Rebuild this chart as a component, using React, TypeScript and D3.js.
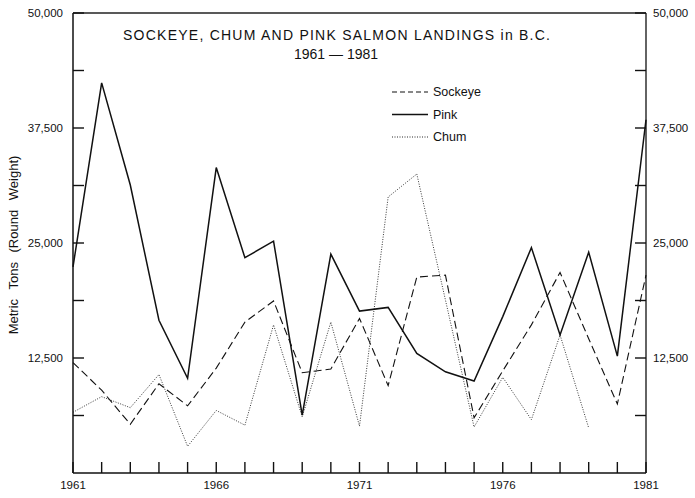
import React from "react";
import * as d3 from "d3";

const years = d3.range(1961, 1982);
// Values in metric tons (round weight)
const sockeye = [12000, 9000, 5300, 9700, 7300, 11400, 16400, 18700, 10900, 11300, 16800, 9500, 21300, 21500, 6000, 11100, 16100, 21800, 14600, 7500, 21500];
const pink = [22400, 42400, 31300, 16600, 10300, 33200, 23400, 25200, 6300, 23800, 17600, 18000, 13000, 11000, 10000, 17000, 24500, 15000, 24000, 12700, 38400];
const chum: (number | null)[] = [6600, 8300, 7100, 10700, 2900, 6800, 5200, 16100, 6100, 16400, 5100, 30000, 32500, 18800, 5000, 10400, 5800, 15000, 4900, null, null];

const yTickLabels = [12500, 25000, 37500, 50000];
const yMinorTicks = [6250, 12500, 18750, 25000, 31250, 37500, 43750, 50000];
const xTickLabels = [1961, 1966, 1971, 1976, 1981];

const legendItems = [
  { name: "Sockeye", dash: "5,3", width: 1.1 },
  { name: "Pink", dash: "none", width: 1.5 },
  { name: "Chum", dash: "1,1.5", width: 0.9 },
];

export default function App() {
  const W = 695, H = 498;
  const left = 73, right = 646, top = 13, bottom = 473;
  const x = d3.scaleLinear().domain([1961, 1981]).range([left, right]);
  const y = d3.scaleLinear().domain([0, 50000]).range([bottom, top]);

  const line = d3
    .line<number | null>()
    .defined((d) => d !== null)
    .x((_, i) => x(years[i]))
    .y((d) => y(d as number));

  const font = "'Liberation Sans', Arial, Helvetica, sans-serif";

  return (
    <svg width={W} height={H} viewBox={`0 0 ${W} ${H}`} style={{ position: "absolute", left: 0, top: 0, background: "#fff" }}>
      <rect x={0} y={0} width={W} height={H} fill="#fff" />
      {/* frame */}
      <line x1={left} x2={right} y1={top} y2={top} stroke="#222" strokeWidth={1.3} />
      <line x1={left} x2={right} y1={bottom} y2={bottom} stroke="#111" strokeWidth={1.5} />
      <line x1={left} x2={left} y1={top} y2={bottom} stroke="#111" strokeWidth={1.5} />
      <line x1={right} x2={right} y1={top} y2={bottom} stroke="#222" strokeWidth={1.4} />

      {/* y ticks */}
      {yMinorTicks.map((v) => (
        <g key={"yt" + v}>
          <line x1={left} x2={left + 11} y1={y(v)} y2={y(v)} stroke="#111" strokeWidth={1.4} />
          <line x1={right} x2={right - 11} y1={y(v)} y2={y(v)} stroke="#111" strokeWidth={1.4} />
        </g>
      ))}
      {yTickLabels.map((v) => (
        <g key={"yl" + v} fontFamily={font} fontSize={11.5} fill="#111">
          <text x={63} y={y(v)} dy="0.35em" textAnchor="end">{d3.format(",")(v)}</text>
          <text x={653} y={y(v)} dy="0.35em" textAnchor="start">{d3.format(",")(v)}</text>
        </g>
      ))}

      {/* x ticks */}
      {years.map((yr) => (
        <line key={"xt" + yr} x1={x(yr)} x2={x(yr)} y1={bottom} y2={bottom - 11} stroke="#111" strokeWidth={1.4} />
      ))}
      {xTickLabels.map((yr) => (
        <text key={"xl" + yr} x={x(yr)} y={489} textAnchor="middle" fontFamily={font} fontSize={11.5} fill="#111">{yr}</text>
      ))}

      {/* axis title */}
      <text transform="translate(18,245) rotate(-90)" textAnchor="middle" fontFamily={font} fontSize={13} fill="#111" style={{ wordSpacing: "6px" }}>
        Metric Tons (Round Weight)
      </text>

      {/* chart title */}
      <text x={123} y={40} textLength={427} lengthAdjust="spacing" fontFamily={font} fontSize={14} fill="#111">SOCKEYE, CHUM AND PINK SALMON LANDINGS in B.C.</text>
      <text x={336} y={59} textAnchor="middle" fontFamily={font} fontSize={14} fill="#111">1961 — 1981</text>

      {/* series */}
      <path d={line(chum) || ""} fill="none" stroke="#222" strokeWidth={0.9} strokeDasharray="1,1.5" />
      <path d={line(sockeye) || ""} fill="none" stroke="#111" strokeWidth={1.1} strokeDasharray="8,4" />
      <path d={line(pink) || ""} fill="none" stroke="#111" strokeWidth={1.5} />

      {/* legend */}
      {legendItems.map((it, i) => (
        <g key={it.name}>
          <line x1={392} x2={428} y1={92 + i * 22.5} y2={92 + i * 22.5} stroke="#111" strokeWidth={it.width} strokeDasharray={it.dash} />
          <text x={433} y={92 + i * 22.5} dy="0.35em" fontFamily={font} fontSize={12.5} fill="#111">{it.name}</text>
        </g>
      ))}
    </svg>
  );
}
